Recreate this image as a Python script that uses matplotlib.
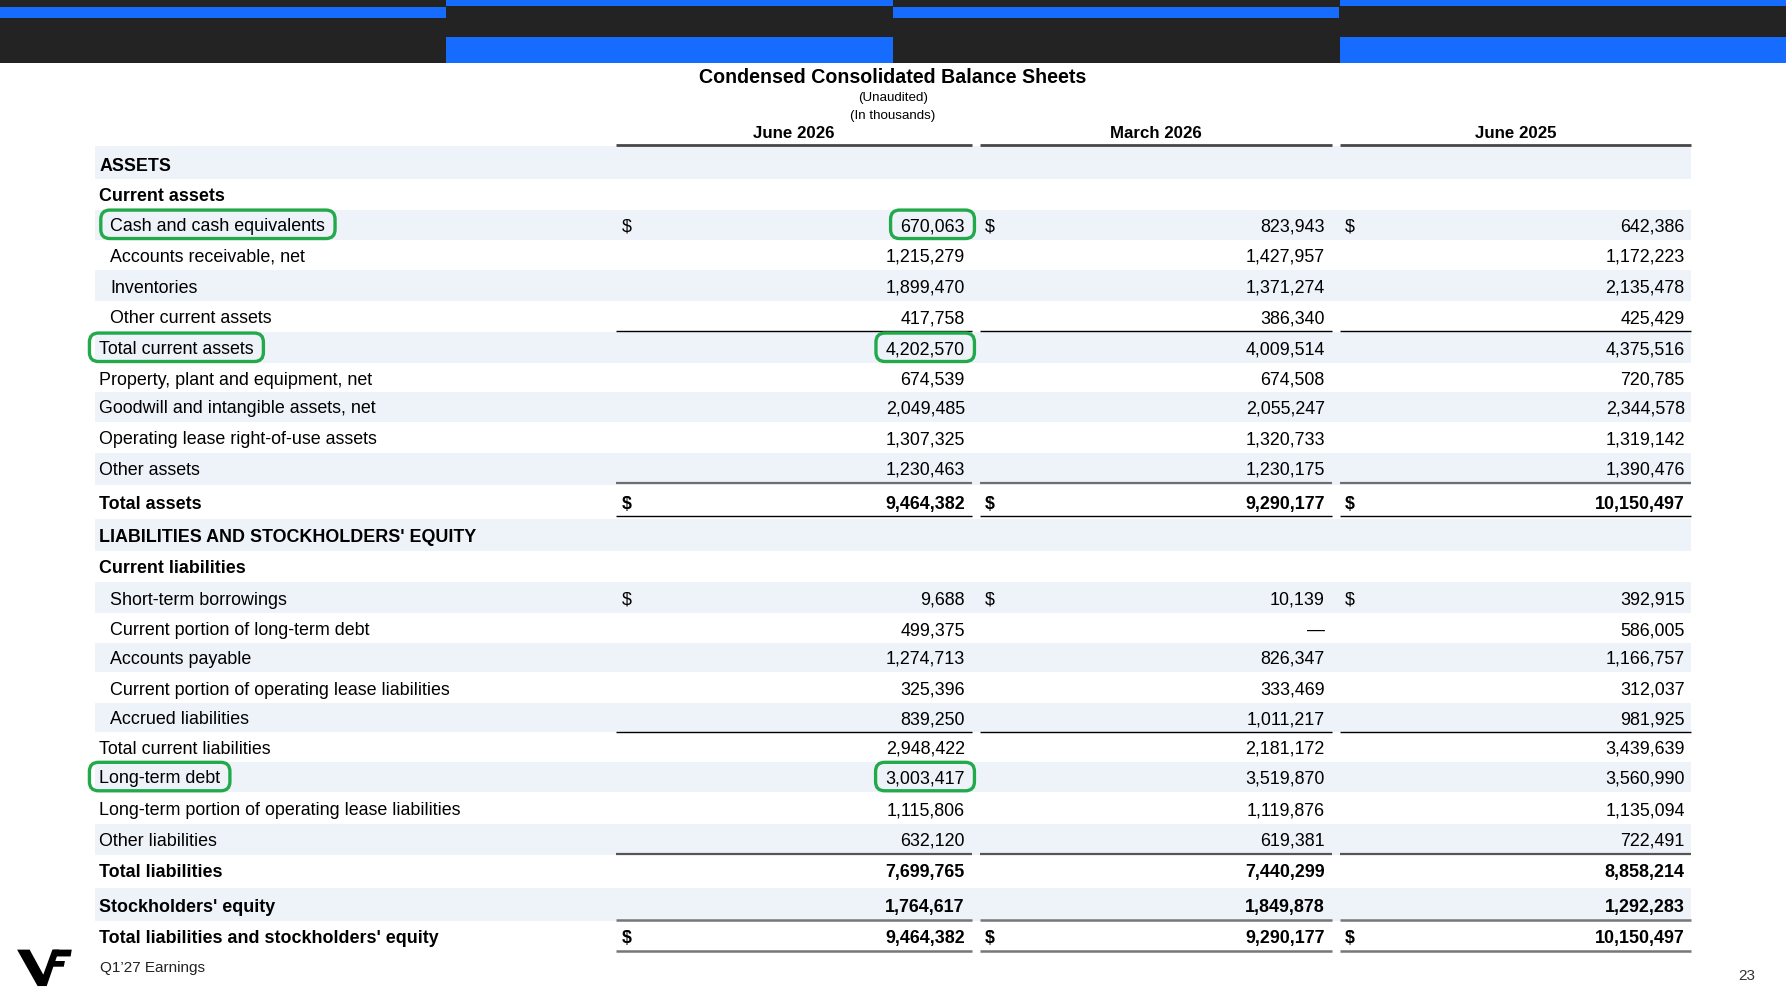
import matplotlib
matplotlib.use("Agg")
import matplotlib.pyplot as plt
from matplotlib.patches import Rectangle, FancyBboxPatch, Polygon

FONT = "Liberation Sans"
plt.rcParams["font.family"] = [FONT, "DejaVu Sans"]

# ---------------- data ----------------
title = "Condensed Consolidated Balance Sheets"
subtitle1 = "(Unaudited)"
subtitle2 = "(In thousands)"
periods = ["June 2026", "March 2026", "June 2025"]

labels = [
    "ASSETS",
    "Current assets",
    "Cash and cash equivalents",
    "Accounts receivable, net",
    "Inventories",
    "Other current assets",
    "Total current assets",
    "Property, plant and equipment, net",
    "Goodwill and intangible assets, net",
    "Operating lease right-of-use assets",
    "Other assets",
    "Total assets",
    "LIABILITIES AND STOCKHOLDERS' EQUITY",
    "Current liabilities",
    "Short-term borrowings",
    "Current portion of long-term debt",
    "Accounts payable",
    "Current portion of operating lease liabilities",
    "Accrued liabilities",
    "Total current liabilities",
    "Long-term debt",
    "Long-term portion of operating lease liabilities",
    "Other liabilities",
    "Total liabilities",
    "Stockholders' equity",
    "Total liabilities and stockholders' equity",
]
indented = [0, 0, 1, 1, 1, 1, 0, 0, 0, 0, 0, 0, 0, 0, 1, 1, 1, 1, 1, 0, 0, 0, 0, 0, 0, 0]
bold_rows = [1, 1, 0, 0, 0, 0, 0, 0, 0, 0, 0, 1, 1, 1, 0, 0, 0, 0, 0, 0, 0, 0, 0, 1, 1, 1]
dollar_rows = [2, 11, 14, 25]

june_2026 = [None, None, 670063, 1215279, 1899470, 417758, 4202570, 674539, 2049485,
             1307325, 1230463, 9464382, None, None, 9688, 499375, 1274713, 325396,
             839250, 2948422, 3003417, 1115806, 632120, 7699765, 1764617, 9464382]
march_2026 = [None, None, 823943, 1427957, 1371274, 386340, 4009514, 674508, 2055247,
              1320733, 1230175, 9290177, None, None, 10139, 0, 826347, 333469,
              1011217, 2181172, 3519870, 1119876, 619381, 7440299, 1849878, 9290177]
june_2025 = [None, None, 642386, 1172223, 2135478, 425429, 4375516, 720785, 2344578,
             1319142, 1390476, 10150497, None, None, 392915, 586005, 1166757, 312037,
             981925, 3439639, 3560990, 1135094, 722491, 8858214, 1292283, 10150497]
series = [june_2026, march_2026, june_2025]

highlight_labels = [2, 6, 20]   # rows circled in green (label + June 2026 value)

footer = "Q1\u201927 Earnings"
page = "23"

# ---------------- layout (page units, 1568 x 880) ----------------
W, H = 1568, 880
row_y = [144, 171, 197, 224, 251, 278, 305, 332, 357, 384, 411, 441, 470, 497,
         525, 552, 577, 604, 630, 656, 682, 710, 737, 764, 795, 822]
TOFF = 2.0   # text vertical optical offset
col_left = [541, 860, 1176]
col_right = [853, 1169, 1485]
band_left, band_right = 83, 1485
header_line_y = 127
rules = [  # (y, color, lw)
    (291, "black", 1.0),
    (424, "#6e6e6e", 1.6),
    (453, "black", 1.0),
    (643, "black", 1.0),
    (750, "#555555", 1.6),
    (808, "#777777", 1.8),
    (835, "#777777", 1.8),
]

BLUE = "#166cff"
DARK = "#232323"
BAND = "#eef3fa"
GREEN = "#22a94a"

fig = plt.figure(figsize=(17.86, 10.02), dpi=100)
ax = fig.add_axes([0, 0, 1, 1])
ax.set_xlim(0, W)
ax.set_ylim(H, 0)
ax.axis("off")

# ---- header bar ----
ax.add_patch(Rectangle((0, 0), W, 55, color=DARK, lw=0, zorder=1))
seg_w = W / 4
for i in range(4):
    x0 = i * seg_w
    if i % 2 == 0:
        ax.add_patch(Rectangle((x0, 6.3), seg_w, 9.5, color=BLUE, lw=0, zorder=2))
    else:
        ax.add_patch(Rectangle((x0, 0), seg_w, 5.5, color=BLUE, lw=0, zorder=2))
        ax.add_patch(Rectangle((x0, 32.5), seg_w, 22.5, color=BLUE, lw=0, zorder=2))

# ---- titles ----
ax.text(W / 2, 66 + TOFF, title, ha="center", va="center", fontsize=14.1, fontweight="bold")
ax.text(W / 2, 84.5 + TOFF, subtitle1, ha="center", va="center", fontsize=9.6)
ax.text(W / 2, 100 + TOFF, subtitle2, ha="center", va="center", fontsize=9.6)
for j, p in enumerate(periods):
    cx = (col_left[j] + col_right[j]) / 2
    ax.text(cx, 115 + TOFF, p, ha="center", va="center", fontsize=12.2, fontweight="bold")
    ax.plot([col_left[j], col_right[j]], [header_line_y, header_line_y],
            color="#474747", lw=2.0, solid_capstyle="butt", zorder=4)

# ---- bands ----
for i, y in enumerate(row_y):
    if i % 2 == 0:
        top = header_line_y + 1 if i == 0 else (row_y[i - 1] + y) / 2
        bot = (y + row_y[i + 1]) / 2 if i + 1 < len(row_y) else y + 13
        ax.add_patch(Rectangle((band_left, top), band_right - band_left, bot - top,
                               color=BAND, lw=0, zorder=0))

# ---- rows ----
label_texts = {}
value_texts = {}
for i, (lab, y) in enumerate(zip(labels, row_y)):
    fw = "bold" if bold_rows[i] else "normal"
    x = 97 if indented[i] else 87
    ty = y + TOFF
    label_texts[i] = ax.text(x, ty, lab, ha="left", va="center", fontsize=12.9,
                             fontweight=fw, zorder=5)
    for j, s in enumerate(series):
        v = s[i]
        if v is None:
            continue
        txt = "\u2014" if v == 0 else f"{v:,}"
        t = ax.text(col_right[j] - 6, ty, txt, ha="right", va="center",
                    fontsize=12.9, fontweight=fw, zorder=5)
        if j == 0:
            value_texts[i] = t
        if i in dollar_rows:
            ax.text(col_left[j] + 5, ty, "$", ha="left", va="center",
                    fontsize=12.9, fontweight=fw, zorder=5)

for (y, c, lw) in rules:
    for j in range(3):
        ax.plot([col_left[j], col_right[j]], [y, y], color=c, lw=lw,
                solid_capstyle="butt", zorder=4)

# ---- footer ----
ax.text(88, 848 + TOFF, footer, ha="left", va="center", fontsize=11.0, color="#222222")
ax.text(1541, 855 + TOFF, page, ha="right", va="center", fontsize=11.0, color="#333333")

# logo (decorative)
ax.add_patch(Polygon([[15, 834], [26, 834], [38, 856], [46, 834], [52, 834],
                      [41, 866], [33, 866]], closed=True, color="black", lw=0))
ax.add_patch(Polygon([[47, 834], [63, 834], [62, 840], [45, 840]], closed=True,
                     color="black", lw=0))
ax.add_patch(Polygon([[45, 844], [57, 844], [56, 849], [43, 849]], closed=True,
                     color="black", lw=0))

# ---- green highlight boxes ----
fig.canvas.draw()
renderer = fig.canvas.get_renderer()
inv = ax.transData.inverted()


def box_around(t, row_center, padx=8.5):
    bb = t.get_window_extent(renderer)
    (x0, _), (x1, _) = inv.transform([[bb.x0, bb.y0], [bb.x1, bb.y1]])
    h = 12.5
    ax.add_patch(FancyBboxPatch((x0 - padx, row_center - h), (x1 - x0) + 2 * padx, 2 * h,
                                boxstyle="round,pad=0,rounding_size=8",
                                fill=False, ec=GREEN, lw=2.4, zorder=6))


for i in highlight_labels:
    box_around(label_texts[i], row_y[i])
    box_around(value_texts[i], row_y[i])

fig.savefig("out.png", dpi=100)
